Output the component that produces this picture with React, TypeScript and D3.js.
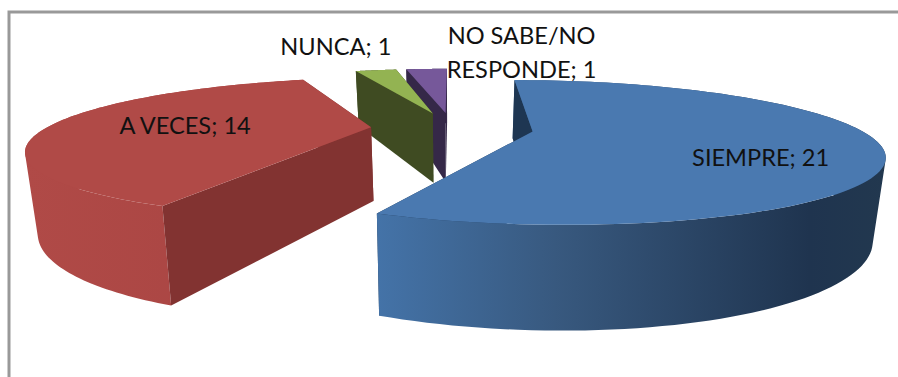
import React from "react";
import * as d3 from "d3";

// Survey answers
const categories = ["SIEMPRE", "A VECES", "NUNCA", "NO SABE/NO RESPONDE"];
const counts = [21, 14, 1, 1];
const labelLines = [["SIEMPRE; 21"], ["A VECES; 14"], ["NUNCA; 1"], ["NO SABE/NO", "RESPONDE; 1"]];

const topColors = ["#4a79b0", "#b04a47", "#93b352", "#76589a"];
const wallColors = ["#1e3652", "#823331", "#3f4b22", "#352848"];
const rimStops = [
  [["0", "#4473a8"], ["0.35", "#38597f"], ["0.85", "#1f344f"], ["1", "#22384f"]],
  [["0", "#b04a47"], ["1", "#a84442"]],
  [["0", "#3f4b22"], ["1", "#3f4b22"]],
  [["0", "#352848"], ["1", "#352848"]],
];

// Label placement relative to each slice's apex on the top face
const labelOffsets = [
  [228, 35],
  [-186, 7],
  [-97, -58],
  [76, -69],
];

// Projection of the exploded disc: perspective shrinks toward the back
const W = 898;
const H = 377;
const vanishX = 452;
const baseY = 128;
const radiusX = 325;
const radiusY = 64.3;
const perspective = 0.2857;
const depth = 74;
const bottomShrink = 0.97;
const explode = 0.25;

type P = [number, number];

const persp = (y: number) => 1 / (1 + perspective * y);
const project = (wx: number, wy: number, lower = false): P => {
  const s = persp(wy);
  const x = vanishX + wx * radiusX * s;
  const y = baseY - radiusY * wy * s;
  return lower
    ? [vanishX + (x - vanishX) * bottomShrink, y + depth * s]
    : [x, y];
};

const poly = d3.line<P>().x((d) => d[0]).y((d) => d[1]);

// One outer-wall facet, wound consistently so all facets merge in a single path
const facet = (a: P, b: P, c: P, d: P) => {
  const q: P[] = [a, b, c, d];
  if (d3.polygonArea(q) < 0) q.reverse();
  return poly(q)! + "Z";
};

export default function App() {
  const slices = d3
    .pie<number>()
    .sort(null)
    .startAngle(0)
    .endAngle(2 * Math.PI)(counts);

  const shapes = slices.map((s, i) => {
    const mid = (s.startAngle + s.endAngle) / 2;
    const ox = explode * Math.sin(mid);
    const oy = explode * Math.cos(mid);
    const steps = d3.range(0, 121).map((k) =>
      d3.interpolateNumber(s.startAngle, s.endAngle)(k / 120)
    );
    const world = steps.map((a) => [ox + Math.sin(a), oy + Math.cos(a)] as P);
    const upper = world.map((w) => project(w[0], w[1]));
    const lower = world.map((w) => project(w[0], w[1], true));
    const apex = project(ox, oy);
    const apexLow = project(ox, oy, true);
    return {
      i,
      apex,
      top: poly([apex, ...upper])! + "Z",
      rim: d3
        .range(0, 120)
        .map((k) => facet(upper[k], upper[k + 1], lower[k + 1], lower[k]))
        .join(""),
      startWall: poly([apex, upper[0], lower[0], apexLow])! + "Z",
      endWall: poly([apex, upper[120], lower[120], apexLow])! + "Z",
      xMin: d3.min(upper, (p) => p[0])!,
      xMax: d3.max(upper, (p) => p[0])!,
    };
  });

  // The first slice is painted last: it sits in front of the others
  const paintOrder = [3, 2, 1, 0].map((i) => shapes[i]);

  return (
    <svg
      width={W}
      height={H}
      style={{ position: "absolute", left: 0, top: 0, background: "#fff" }}
    >
      <defs>
        {shapes.map((sh) => (
          <linearGradient
            key={sh.i}
            id={`rim-${sh.i}`}
            gradientUnits="userSpaceOnUse"
            x1={sh.xMin}
            x2={sh.xMax}
            y1={0}
            y2={0}
          >
            {rimStops[sh.i].map(([o, c]) => (
              <stop key={o} offset={o} stopColor={c} />
            ))}
          </linearGradient>
        ))}
      </defs>

      <path d={`M9,${H}V12H${W}`} fill="none" stroke="#999" strokeWidth={3} />

      {paintOrder.map((sh) => (
        <g key={categories[sh.i]}>
          <path d={sh.endWall} fill={wallColors[sh.i]} />
          <path d={sh.rim} fill={`url(#rim-${sh.i})`} />
          <path d={sh.startWall} fill={wallColors[sh.i]} />
          <path d={sh.top} fill={topColors[sh.i]} />
        </g>
      ))}

      {shapes.map((sh) => (
        <text
          key={categories[sh.i]}
          textAnchor="middle"
          fontFamily="Lato, 'Open Sans', sans-serif"
          fontSize={23.6}
          fill="#111"
        >
          {labelLines[sh.i].map((line, k) => (
            <tspan
              key={line}
              x={sh.apex[0] + labelOffsets[sh.i][0]}
              y={sh.apex[1] + labelOffsets[sh.i][1] + k * 34}
            >
              {line}
            </tspan>
          ))}
        </text>
      ))}
    </svg>
  );
}
